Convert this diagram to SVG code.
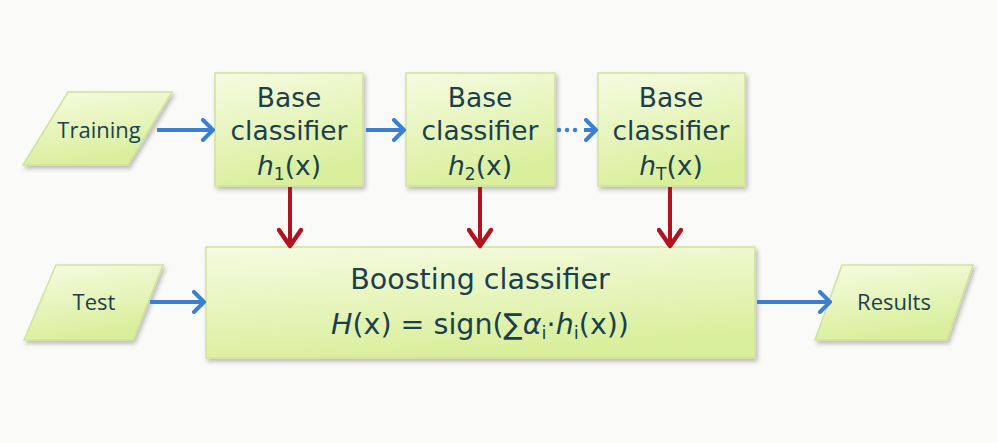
<svg xmlns="http://www.w3.org/2000/svg" width="997" height="443" viewBox="0 0 997 443">
<defs>
<linearGradient id="g" x1="0" y1="0" x2="0.3" y2="1">
<stop offset="0" stop-color="#f6fbe2"/>
<stop offset="1" stop-color="#d9ef9c"/>
</linearGradient>
<filter id="sh" x="-10%" y="-10%" width="130%" height="130%">
<feDropShadow dx="2" dy="3" stdDeviation="2" flood-color="#000" flood-opacity="0.25"/>
</filter>
<marker id="ab" viewBox="0 0 16 24" refX="13" refY="12" markerWidth="16" markerHeight="24" markerUnits="userSpaceOnUse" orient="auto">
<path d="M3,2 L13,12 L3,22" fill="none" stroke="#3a80cf" stroke-width="4" stroke-linecap="round" stroke-linejoin="round"/>
</marker>
<marker id="ar" viewBox="0 0 22 26" refX="19" refY="13" markerWidth="22" markerHeight="26" markerUnits="userSpaceOnUse" orient="auto">
<path d="M3,2 L19,13 L3,24" fill="none" stroke="#b1131f" stroke-width="4.5" stroke-linecap="round" stroke-linejoin="round"/>
</marker>
</defs>
<style>
.n{fill:url(#g);stroke:#cfe29a;stroke-width:1.5;filter:url(#sh)}
.t{font-family:"DejaVu Sans","Verdana",sans-serif;fill:#1b3f4e;text-anchor:middle}
.b{font-size:26.5px}
.bb{font-size:28.5px}
.s{font-family:"Open Sans","DejaVu Sans",sans-serif;font-weight:500;font-size:22px}
.sub{font-size:17px}
.sub2{font-size:18px}
.i{font-style:italic}
.bl{stroke:#3a80cf;stroke-width:4;fill:none;marker-end:url(#ab)}
.rd{stroke:#b1131f;stroke-width:4;fill:none;marker-end:url(#ar)}
</style>
<rect width="997" height="443" fill="#fafbf9"/>
<g id="training">
<polygon class="n" points="68,92 172,92 128,165 23,165"/>
<text class="t s" x="99" y="138">Training</text>
</g>
<g id="base1">
<rect class="n" x="215" y="73" width="148" height="113"/>
<text class="t b" x="289" y="107">Base</text>
<text class="t b" x="289" y="140">classifier</text>
<text class="t b" x="289" y="175"><tspan class="i">h</tspan><tspan class="sub" dy="5">1</tspan><tspan dy="-5">(x)</tspan></text>
</g>
<g id="base2">
<rect class="n" x="406" y="73" width="149" height="113"/>
<text class="t b" x="480" y="107">Base</text>
<text class="t b" x="480" y="140">classifier</text>
<text class="t b" x="480" y="175"><tspan class="i">h</tspan><tspan class="sub" dy="5">2</tspan><tspan dy="-5">(x)</tspan></text>
</g>
<g id="baseT">
<rect class="n" x="598" y="73" width="147" height="113"/>
<text class="t b" x="671" y="107">Base</text>
<text class="t b" x="671" y="140">classifier</text>
<text class="t b" x="671" y="175"><tspan class="i">h</tspan><tspan class="sub" dy="5">T</tspan><tspan dy="-5">(x)</tspan></text>
</g>
<g id="test">
<polygon class="n" points="56,265 163,265 133,340 24,340"/>
<text class="t s" x="94" y="310">Test</text>
</g>
<g id="boosting">
<rect class="n" x="206" y="247" width="549" height="111"/>
<text class="t bb" x="480" y="289">Boosting classifier</text>
<text class="t bb" x="480" y="334"><tspan class="i">H</tspan>(x) = sign(∑<tspan class="i">α</tspan><tspan class="sub2" dy="5">i</tspan><tspan dy="-5">·</tspan><tspan class="i">h</tspan><tspan class="sub2" dy="5">i</tspan><tspan dy="-5">(x))</tspan></text>
</g>
<g id="results">
<polygon class="n" points="842,265 973,265 947,340 815,340"/>
<text class="t s" x="894" y="310">Results</text>
</g>
<g id="connectors">
<line class="bl" x1="157" y1="130" x2="213" y2="130"/>
<line class="bl" x1="366" y1="130" x2="404" y2="130"/>
<line x1="559" y1="130" x2="580" y2="130" stroke="#3a80cf" stroke-width="4.5" stroke-linecap="round" stroke-dasharray="0 8"/>
<line class="bl" x1="584" y1="130" x2="596" y2="130"/>
<line class="rd" x1="290" y1="187" x2="290" y2="246"/>
<line class="rd" x1="480" y1="187" x2="480" y2="246"/>
<line class="rd" x1="670" y1="187" x2="670" y2="246"/>
<line class="bl" x1="150" y1="302" x2="204" y2="302"/>
<line class="bl" x1="757" y1="302" x2="830" y2="302"/>
</g>
</svg>
